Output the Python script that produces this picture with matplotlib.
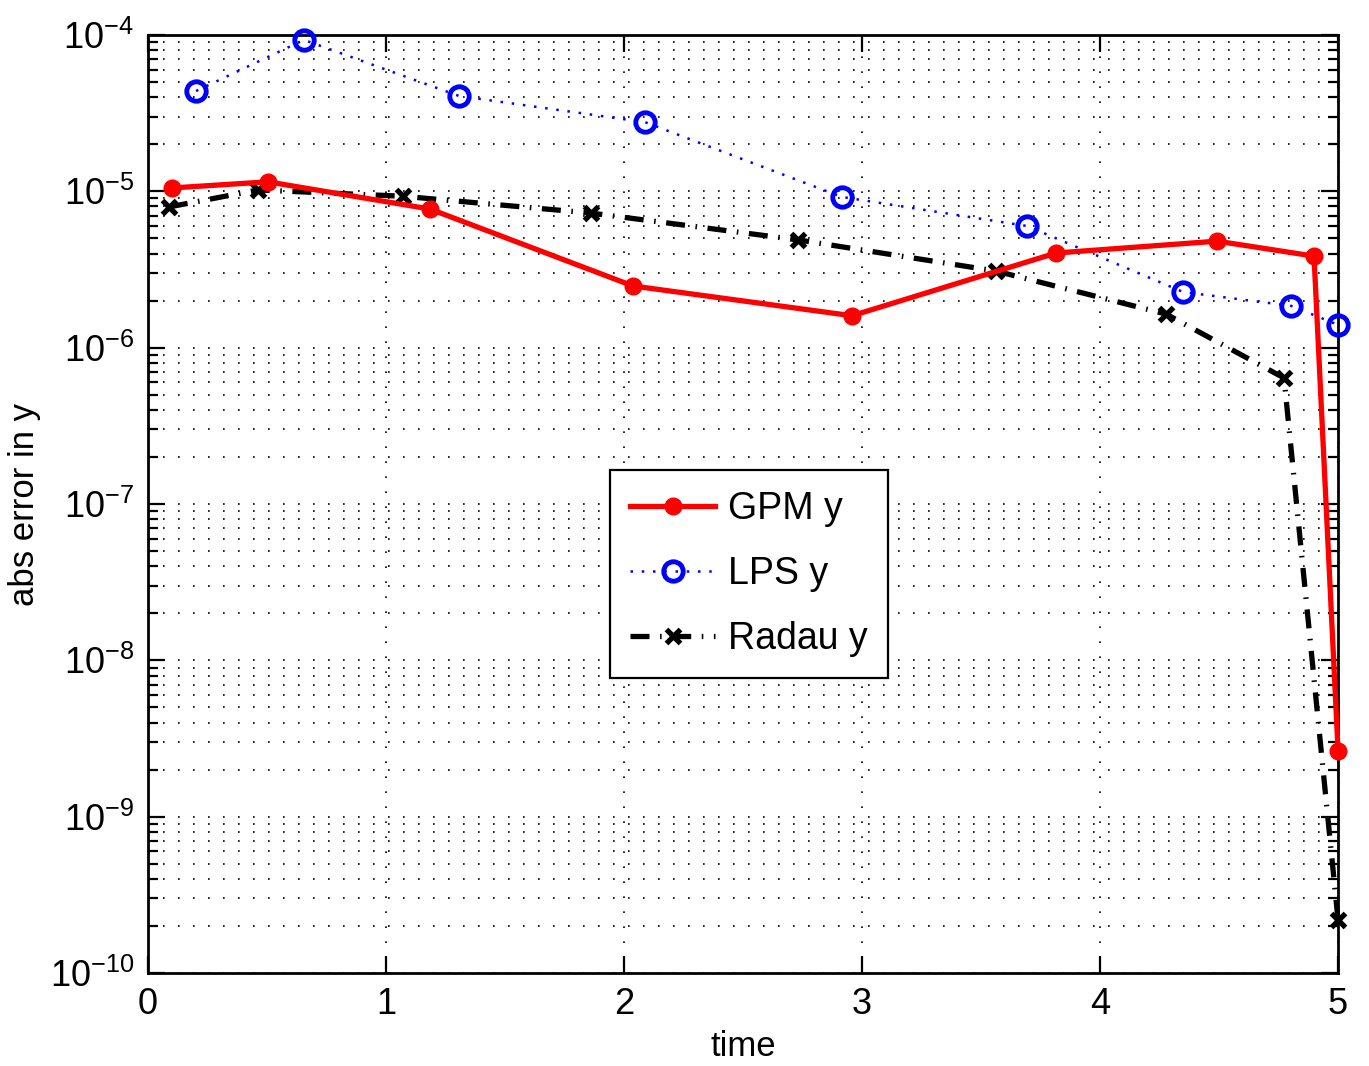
import matplotlib
matplotlib.use("Agg")
import matplotlib.pyplot as plt
import numpy as np
from matplotlib.ticker import FixedLocator, NullFormatter, LogFormatterSciNotation

plt.rcParams['font.family'] = ['Liberation Sans', 'DejaVu Sans']
plt.rcParams['mathtext.fontset'] = 'custom'
plt.rcParams['mathtext.rm'] = 'Liberation Sans'
plt.rcParams['mathtext.it'] = 'Liberation Sans:italic'

# GPM y
gpm_t = [0.099, 0.504, 1.185, 2.038, 2.958, 3.815, 4.492, 4.899, 5.0]
gpm_e = [1.05e-5, 1.15e-5, 7.7e-6, 2.48e-6, 1.6e-6, 4.03e-6, 4.8e-6, 3.85e-6, 2.63e-9]
# LPS y
lps_t = [0.202, 0.655, 1.307, 2.088, 2.916, 3.693, 4.349, 4.803, 5.0]
lps_e = [4.38e-5, 9.3e-5, 4.07e-5, 2.77e-5, 9.2e-6, 6.0e-6, 2.27e-6, 1.85e-6, 1.40e-6]
# Radau y
rad_t = [0.088, 0.462, 1.071, 1.861, 2.731, 3.563, 4.277, 4.773, 5.0]
rad_e = [7.94e-6, 1.02e-5, 9.3e-6, 7.26e-6, 4.89e-6, 3.09e-6, 1.64e-6, 6.4e-7, 2.18e-10]

xticks = [0, 1, 2, 3, 4, 5]
yexps = [-10, -9, -8, -7, -6, -5, -4]

fig = plt.figure(figsize=(13.69, 10.66), dpi=100)
ax = fig.add_axes([0.1081, 0.0872, 0.8693, 0.8800])

ax.plot(gpm_t, gpm_e, color='#ff0000', lw=3.8, ls='-', marker='o', ms=12,
        mfc='#ff0000', mec='#ff0000', label='GPM y', zorder=4, clip_on=False)
ax.plot(lps_t, lps_e, color='#0000ff', lw=1.8, ls=(0, (1, 3.5)), marker='o', ms=14,
        mfc='none', mec='#0000ff', mew=3.5, label='LPS y', zorder=3, clip_on=False)
ax.plot(rad_t, rad_e, color='black', lw=3.8, ls=(0, (3.6, 2.0, 0.3, 2.0)), marker='x', ms=10,
        mec='black', mew=3.8, label='Radau y', zorder=3, clip_on=False)

ax.set_yscale('log')
ax.set_xlim(0, 5)
ax.set_ylim(1e-10, 1e-4)
ax.set_xticks(xticks)
ax.set_xticklabels([str(v) for v in xticks])
major_y = [10.0 ** e for e in yexps]
minor_y = [m * 10.0 ** e for e in yexps[:-1] for m in range(2, 10)]
ax.yaxis.set_major_locator(FixedLocator(major_y))
ax.yaxis.set_major_formatter(LogFormatterSciNotation())
ax.yaxis.set_minor_locator(FixedLocator(minor_y))
ax.yaxis.set_minor_formatter(NullFormatter())

ax.grid(True, which='major', axis='both', color='black', lw=1.2, ls=(0, (1, 8)))
ax.grid(True, which='minor', axis='y', color='black', lw=1.2, ls=(0, (1, 8)))

ax.tick_params(which='both', direction='in', top=True, right=True, labelsize=26, width=1.6)
ax.tick_params(which='major', length=12, pad=10)
ax.tick_params(which='minor', length=7)
for s in ax.spines.values():
    s.set_linewidth(2.0)

ax.set_xlabel('time', fontsize=25, labelpad=6)
ax.set_ylabel('abs error in y', fontsize=25, labelpad=6)

leg = ax.legend(loc='upper left', bbox_to_anchor=(0.388, 0.536), fontsize=27,
                frameon=True, fancybox=False, edgecolor='black', framealpha=1,
                handlelength=2.25, labelspacing=0.78, borderpad=0.55, handletextpad=0.35,
                borderaxespad=0)
leg.get_frame().set_linewidth(1.6)
leg.set_zorder(10)

fig.savefig('out.png', dpi=100)
